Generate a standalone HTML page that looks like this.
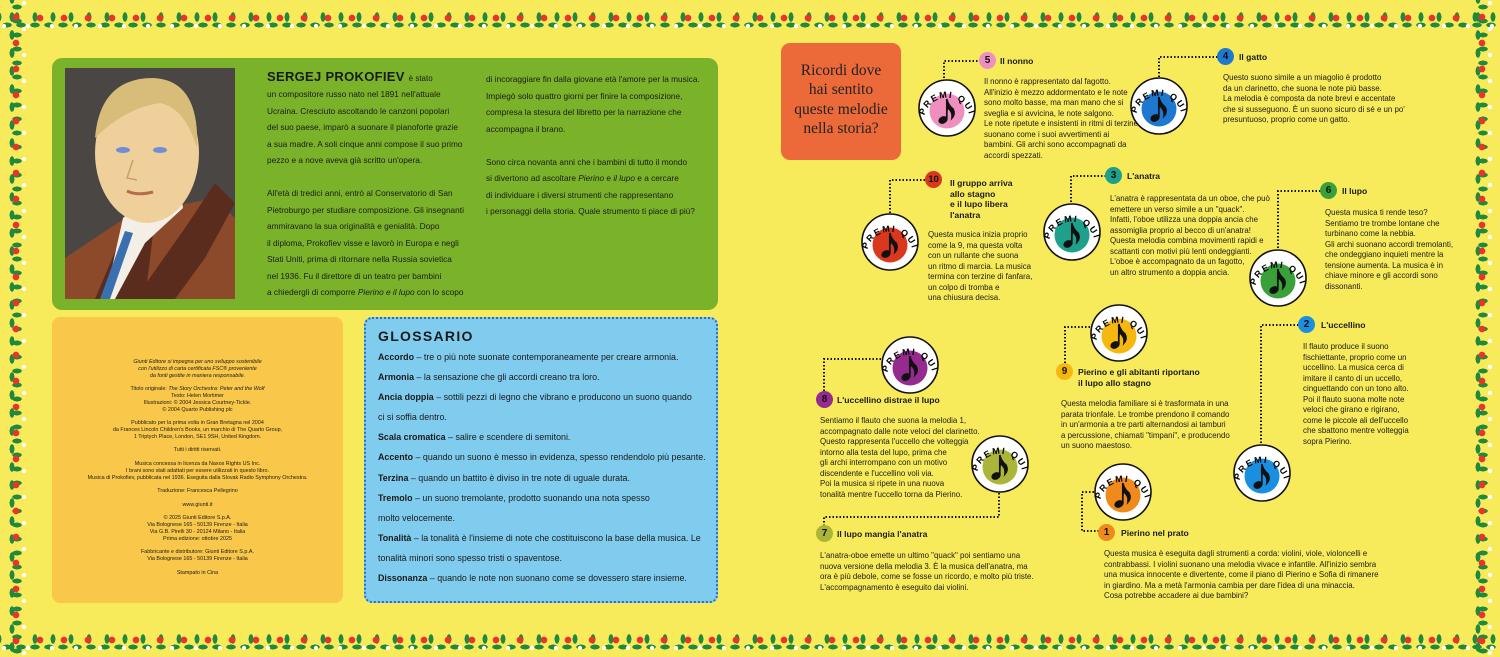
<!DOCTYPE html>
<html><head><meta charset="utf-8">
<style>
*{margin:0;padding:0;box-sizing:border-box}
body{width:1500px;height:657px;overflow:hidden;background:#f8eb5b;font-family:"Liberation Sans",sans-serif;color:#1a1a1a;position:relative}
.a{position:absolute}
.band{position:absolute;background-color:transparent;
background-image:radial-gradient(circle,#e8342a 3px,transparent 3.6px),radial-gradient(circle,#fff 1.8px,transparent 2.4px),radial-gradient(ellipse 5px 2.5px,#1f8a3d 90%,transparent 100%),radial-gradient(ellipse 2.5px 5px,#1f8a3d 90%,transparent 100%);}
.h{background-size:24px 20px,24px 20px,14px 20px,18px 20px;background-position:4px 4px,16px 12px,0 11px,8px 3px;background-repeat:repeat-x}
.v{background-size:20px 26px,20px 26px,20px 14px,20px 18px;background-position:4px 4px,12px 16px,5px 0,0 8px;background-repeat:repeat-y}
.p{font-size:8.3px;line-height:16.5px;white-space:nowrap}
.g{font-size:8.9px;line-height:20.1px;white-space:nowrap}
.g b{font-weight:bold}
.t{font-size:7.9px;line-height:10.5px;white-space:nowrap}
.tt{font-size:8.6px;line-height:10.5px;font-weight:bold;white-space:nowrap}
.bd{position:absolute;width:17px;height:17px;border-radius:50%;font-weight:bold;font-size:10px;line-height:17px;text-align:center;color:#111}
.c{font-size:5.4px;line-height:6.8px;text-align:center;white-space:nowrap}
</style></head><body>
<div class="band h" style="left:0;top:4px;width:1500px;height:24px"></div>
<div class="band h" style="left:0;top:626px;width:1500px;height:24px"></div>
<div class="band v" style="left:2px;top:0;width:24px;height:657px"></div>
<div class="band v" style="left:1468px;top:0;width:24px;height:657px"></div>

<div class="a" style="left:52px;top:58px;width:666px;height:252px;background:#7ab32a;border-radius:10px"></div>
<svg class="a" style="left:65px;top:68px" width="170" height="231" viewBox="0 0 170 231">
<rect width="170" height="231" fill="#4a4644"/>
<path d="M0 190 L60 150 L100 140 L150 130 L170 150 L170 231 L0 231Z" fill="#8c4a2b"/>
<path d="M30 231 L60 160 L90 150 L80 231Z" fill="#5a2c1e"/>
<path d="M150 115 L170 135 L140 190 L110 231 L70 231 L120 160Z" fill="#5a2c1e"/>
<path d="M58 150 L112 100 L118 140 L80 175 L50 231 L40 231Z" fill="#f3efe6"/>
<path d="M60 163 L68 165 L45 231 L35 231Z" fill="#3a6fb0"/>
<ellipse cx="82" cy="85" rx="52" ry="70" fill="#efcf9a"/>
<path d="M30 70 Q35 10 88 10 Q135 12 132 80 Q120 40 95 35 Q60 40 30 70Z" fill="#d8bc7a"/>
<ellipse cx="58" cy="82" rx="7" ry="3" fill="#6f8ed6"/><ellipse cx="95" cy="82" rx="7" ry="3" fill="#6f8ed6"/>
<path d="M62 123 Q72 128 88 124" stroke="#b66c4c" stroke-width="3" fill="none"/>
<path d="M68 92 L62 110 L72 112" stroke="#c9a06c" stroke-width="1.5" fill="none"/>
</svg>
<div class="a" style="left:267px;top:69px;font-size:13px;font-weight:bold;letter-spacing:.3px">SERGEJ PROKOFIEV <span style="font-size:8px;font-weight:normal;letter-spacing:0">è stato</span></div>
<div class="a p" style="left:267px;top:86px">un compositore russo nato nel 1891 nell'attuale<br>Ucraina. Cresciuto ascoltando le canzoni popolari<br>del suo paese, imparò a suonare il pianoforte grazie<br>a sua madre. A soli cinque anni compose il suo primo<br>pezzo e a nove aveva già scritto un'opera.<br><br>All'età di tredici anni, entrò al Conservatorio di San<br>Pietroburgo per studiare composizione. Gli insegnanti<br>ammiravano la sua originalità e genialità. Dopo<br>il diploma, Prokofiev visse e lavorò in Europa e negli<br>Stati Uniti, prima di ritornare nella Russia sovietica<br>nel 1936. Fu il direttore di un teatro per bambini<br>a chiedergli di comporre <i>Pierino e il lupo</i> con lo scopo</div>
<div class="a p" style="left:486px;top:71px">di incoraggiare fin dalla giovane età l'amore per la musica.<br>Impiegò solo quattro giorni per finire la composizione,<br>compresa la stesura del libretto per la narrazione che<br>accompagna il brano.<br><br>Sono circa novanta anni che i bambini di tutto il mondo<br>si divertono ad ascoltare <i>Pierino</i> e <i>il lupo</i> e a cercare<br>di individuare i diversi strumenti che rappresentano<br>i personaggi della storia. Quale strumento ti piace di più?</div>

<div class="a" style="left:52px;top:317px;width:291px;height:286px;background:#f9c74a;border-radius:8px"></div>
<div class="a c" style="left:52px;top:359px;width:291px"><i>Giunti Editore si impegna per uno sviluppo sostenibile<br>con l'utilizzo di carta certificata FSC® proveniente<br>da fonti gestite in maniera responsabile.</i><br><br>Titolo originale: <i>The Story Orchestra: Peter and the Wolf</i><br>Testo: Helen Mortimer<br>Illustrazioni: © 2004 Jessica Courtney-Tickle.<br>© 2004 Quarto Publishing plc<br><br>Pubblicato per la prima volta in Gran Bretagna nel 2004<br>da Frances Lincoln Children's Books, un marchio di The Quarto Group,<br>1 Triptych Place, London, SE1 9SH, United Kingdom.<br><br>Tutti i diritti riservati.<br><br>Musica concessa in licenza da Naxos Rights US Inc.<br>I brani sono stati adattati per essere utilizzati in questo libro.<br>Musica di Prokofiev, pubblicata nel 1936. Eseguita dalla Slovak Radio Symphony Orchestra.<br><br>Traduzione: Francesca Pellegrino<br><br>www.giunti.it<br><br>© 2025 Giunti Editore S.p.A.<br>Via Bolognese 165 - 50139 Firenze - Italia<br>Via G.B. Pirelli 30 - 20124 Milano - Italia<br>Prima edizione: ottobre 2025<br><br>Fabbricante e distributore: Giunti Editore S.p.A.<br>Via Bolognese 165 - 50139 Firenze - Italia<br><br>Stampato in Cina</div>

<div class="a" style="left:364px;top:317px;width:354px;height:286px;background:#80ccef;border:2px dotted #2a6bc9;border-radius:8px"></div>
<div class="a" style="left:378px;top:328px;font-size:14px;font-weight:bold;letter-spacing:1.3px">GLOSSARIO</div>
<div class="a g" style="left:378px;top:347px"><b>Accordo</b> – tre o più note suonate contemporaneamente per creare armonia.<br><b>Armonia</b> – la sensazione che gli accordi creano tra loro.<br><b>Ancia doppia</b> – sottili pezzi di legno che vibrano e producono un suono quando<br>ci si soffia dentro.<br><b>Scala cromatica</b> – salire e scendere di semitoni.<br><b>Accento</b> – quando un suono è messo in evidenza, spesso rendendolo più pesante.<br><b>Terzina</b> – quando un battito è diviso in tre note di uguale durata.<br><b>Tremolo</b> – un suono tremolante, prodotto suonando una nota spesso<br>molto velocemente.<br><b>Tonalità</b> – la tonalità è l'insieme di note che costituiscono la base della musica. Le<br>tonalità minori sono spesso tristi o spaventose.<br><b>Dissonanza</b> – quando le note non suonano come se dovessero stare insieme.</div>

<div class="a" style="left:781px;top:43px;width:120px;height:117px;background:#ec6a3a;border-radius:9px"></div>
<div class="a" style="left:781px;top:61px;width:120px;text-align:center;font-family:'Liberation Serif',serif;font-size:15.5px;line-height:19.3px;color:#222">Ricordi dove<br>hai sentito<br>queste melodie<br>nella storia?</div>

<svg class="a" style="left:0;top:0" width="1500" height="657">
<g fill="none" stroke="#111" stroke-width="2" stroke-dasharray="1.5 2">
<path d="M944 78 V61 H980"/>
<path d="M1159 77 V57 H1218"/>
<path d="M890 213 V180 H927"/>
<path d="M1071 202 V176 H1106"/>
<path d="M1278 248 V191 H1321"/>
<path d="M1090 327 H1065 V363"/>
<path d="M881 359 H824 V392"/>
<path d="M999 493 V517 H824 V526"/>
<path d="M1094 492 H1082 V531 H1099"/>
<path d="M1261 443 V325 H1299"/>
</g>
</svg>

<svg width="0" height="0" style="position:absolute"><defs><path id="arc" d="M7.5 38 A23 23 0 0 1 52.5 38"/>
<g id="note"><ellipse cx="26" cy="42" rx="4.8" ry="3.6" transform="rotate(-25 26 42)" fill="#111"/><path d="M29.8 41 V21 Q31 27 36 31 Q38.5 36 35 40 Q36 34 31 30" stroke="#111" stroke-width="1.7" fill="#111"/></g></defs></svg>

<svg class="a" style="left:917px;top:78px" width="60" height="60"><circle cx="30" cy="30" r="28" fill="#fff" stroke="#111" stroke-width="1.6"/><circle cx="30" cy="33" r="17.5" fill="#ef8fc0"/><use href="#note"/><text font-size="9" font-weight="bold" letter-spacing="1.6"><textPath href="#arc" startOffset="50%" text-anchor="middle">PREMI QUI</textPath></text></svg>
<svg class="a" style="left:1129px;top:76px" width="60" height="60"><circle cx="30" cy="30" r="28" fill="#fff" stroke="#111" stroke-width="1.6"/><circle cx="30" cy="33" r="17.5" fill="#1f78cf"/><use href="#note"/><text font-size="9" font-weight="bold" letter-spacing="1.6"><textPath href="#arc" startOffset="50%" text-anchor="middle">PREMI QUI</textPath></text></svg>
<svg class="a" style="left:860px;top:212px" width="60" height="60"><circle cx="30" cy="30" r="28" fill="#fff" stroke="#111" stroke-width="1.6"/><circle cx="30" cy="33" r="17.5" fill="#d9381e"/><use href="#note"/><text font-size="9" font-weight="bold" letter-spacing="1.6"><textPath href="#arc" startOffset="50%" text-anchor="middle">PREMI QUI</textPath></text></svg>
<svg class="a" style="left:1042px;top:202px" width="60" height="60"><circle cx="30" cy="30" r="28" fill="#fff" stroke="#111" stroke-width="1.6"/><circle cx="30" cy="33" r="17.5" fill="#1fa08a"/><use href="#note"/><text font-size="9" font-weight="bold" letter-spacing="1.6"><textPath href="#arc" startOffset="50%" text-anchor="middle">PREMI QUI</textPath></text></svg>
<svg class="a" style="left:1248px;top:248px" width="60" height="60"><circle cx="30" cy="30" r="28" fill="#fff" stroke="#111" stroke-width="1.6"/><circle cx="30" cy="33" r="17.5" fill="#3aa13a"/><use href="#note"/><text font-size="9" font-weight="bold" letter-spacing="1.6"><textPath href="#arc" startOffset="50%" text-anchor="middle">PREMI QUI</textPath></text></svg>
<svg class="a" style="left:1089px;top:303px" width="60" height="60"><circle cx="30" cy="30" r="28" fill="#fff" stroke="#111" stroke-width="1.6"/><circle cx="30" cy="33" r="17.5" fill="#f6b80f"/><use href="#note"/><text font-size="9" font-weight="bold" letter-spacing="1.6"><textPath href="#arc" startOffset="50%" text-anchor="middle">PREMI QUI</textPath></text></svg>
<svg class="a" style="left:880px;top:335px" width="60" height="60"><circle cx="30" cy="30" r="28" fill="#fff" stroke="#111" stroke-width="1.6"/><circle cx="30" cy="33" r="17.5" fill="#952b8f"/><use href="#note"/><text font-size="9" font-weight="bold" letter-spacing="1.6"><textPath href="#arc" startOffset="50%" text-anchor="middle">PREMI QUI</textPath></text></svg>
<svg class="a" style="left:970px;top:434px" width="60" height="60"><circle cx="30" cy="30" r="28" fill="#fff" stroke="#111" stroke-width="1.6"/><circle cx="30" cy="33" r="17.5" fill="#aab53a"/><use href="#note"/><text font-size="9" font-weight="bold" letter-spacing="1.6"><textPath href="#arc" startOffset="50%" text-anchor="middle">PREMI QUI</textPath></text></svg>
<svg class="a" style="left:1093px;top:462px" width="60" height="60"><circle cx="30" cy="30" r="28" fill="#fff" stroke="#111" stroke-width="1.6"/><circle cx="30" cy="33" r="17.5" fill="#f08a1c"/><use href="#note"/><text font-size="9" font-weight="bold" letter-spacing="1.6"><textPath href="#arc" startOffset="50%" text-anchor="middle">PREMI QUI</textPath></text></svg>
<svg class="a" style="left:1232px;top:443px" width="60" height="60"><circle cx="30" cy="30" r="28" fill="#fff" stroke="#111" stroke-width="1.6"/><circle cx="30" cy="33" r="17.5" fill="#1a8fe0"/><use href="#note"/><text font-size="9" font-weight="bold" letter-spacing="1.6"><textPath href="#arc" startOffset="50%" text-anchor="middle">PREMI QUI</textPath></text></svg>

<div class="bd" style="left:979px;top:52px;background:#ef8fc0">5</div>
<div class="bd" style="left:1217px;top:48px;background:#1f78cf">4</div>
<div class="bd" style="left:925px;top:171px;background:#d9381e;font-size:9.5px">10</div>
<div class="bd" style="left:1105px;top:167px;background:#1fa08a">3</div>
<div class="bd" style="left:1320px;top:182px;background:#3aa13a">6</div>
<div class="bd" style="left:1056px;top:363px;background:#f6b80f">9</div>
<div class="bd" style="left:816px;top:391px;background:#952b8f">8</div>
<div class="bd" style="left:816px;top:525px;background:#aab53a">7</div>
<div class="bd" style="left:1098px;top:524px;background:#f08a1c">1</div>
<div class="bd" style="left:1298px;top:316px;background:#1a8fe0">2</div>

<div class="a tt" style="left:1000px;top:56px">Il nonno</div>
<div class="a tt" style="left:1239px;top:52px">Il gatto</div>
<div class="a tt" style="left:950px;top:178px">Il gruppo arriva<br>allo stagno<br>e il lupo libera<br>l'anatra</div>
<div class="a tt" style="left:1127px;top:171px">L'anatra</div>
<div class="a tt" style="left:1342px;top:186px">Il lupo</div>
<div class="a tt" style="left:1078px;top:367px">Pierino e gli abitanti riportano<br>il lupo allo stagno</div>
<div class="a tt" style="left:837px;top:395px">L'uccellino distrae il lupo</div>
<div class="a tt" style="left:837px;top:529px">Il lupo mangia l'anatra</div>
<div class="a tt" style="left:1121px;top:528px">Pierino nel prato</div>
<div class="a tt" style="left:1321px;top:320px">L'uccellino</div>

<div class="a t" style="left:984px;top:77px">Il nonno è rappresentato dal fagotto.<br>All'inizio è mezzo addormentato e le note<br>sono molto basse, ma man mano che si<br>sveglia e si avvicina, le note salgono.<br>Le note ripetute e insistenti in ritmi di terzine<br>suonano come i suoi avvertimenti ai<br>bambini. Gli archi sono accompagnati da<br>accordi spezzati.</div>
<div class="a t" style="left:1223px;top:73px">Questo suono simile a un miagolio è prodotto<br>da un clarinetto, che suona le note più basse.<br>La melodia è composta da note brevi e accentate<br>che si susseguono. È un suono sicuro di sé e un po'<br>presuntuoso, proprio come un gatto.</div>
<div class="a t" style="left:928px;top:230px">Questa musica inizia proprio<br>come la 9, ma questa volta<br>con un rullante che suona<br>un ritmo di marcia. La musica<br>termina con terzine di fanfara,<br>un colpo di tromba e<br>una chiusura decisa.</div>
<div class="a t" style="left:1110px;top:194px">L'anatra è rappresentata da un oboe, che può<br>emettere un verso simile a un "quack".<br>Infatti, l'oboe utilizza una doppia ancia che<br>assomiglia proprio al becco di un'anatra!<br>Questa melodia combina movimenti rapidi e<br>scattanti con motivi più lenti ondeggianti.<br>L'oboe è accompagnato da un fagotto,<br>un altro strumento a doppia ancia.</div>
<div class="a t" style="left:1325px;top:208px">Questa musica ti rende teso?<br>Sentiamo tre trombe lontane che<br>turbinano come la nebbia.<br>Gli archi suonano accordi tremolanti,<br>che ondeggiano inquieti mentre la<br>tensione aumenta. La musica è in<br>chiave minore e gli accordi sono<br>dissonanti.</div>
<div class="a t" style="left:1061px;top:399px">Questa melodia familiare si è trasformata in una<br>parata trionfale. Le trombe prendono il comando<br>in un'armonia a tre parti alternandosi ai tamburi<br>a percussione, chiamati "timpani", e producendo<br>un suono maestoso.</div>
<div class="a t" style="left:820px;top:416px">Sentiamo il flauto che suona la melodia 1,<br>accompagnato dalle note veloci del clarinetto.<br>Questo rappresenta l'uccello che volteggia<br>intorno alla testa del lupo, prima che<br>gli archi interrompano con un motivo<br>discendente e l'uccellino voli via.<br>Poi la musica si ripete in una nuova<br>tonalità mentre l'uccello torna da Pierino.</div>
<div class="a t" style="left:820px;top:551px">L'anatra-oboe emette un ultimo "quack" poi sentiamo una<br>nuova versione della melodia 3. È la musica dell'anatra, ma<br>ora è più debole, come se fosse un ricordo, e molto più triste.<br>L'accompagnamento è eseguito dai violini.</div>
<div class="a t" style="left:1104px;top:549px">Questa musica è eseguita dagli strumenti a corda: violini, viole, violoncelli e<br>contrabbassi. I violini suonano una melodia vivace e infantile. All'inizio sembra<br>una musica innocente e divertente, come il piano di Pierino e Sofia di rimanere<br>in giardino. Ma a metà l'armonia cambia per dare l'idea di una minaccia.<br>Cosa potrebbe accadere ai due bambini?</div>
<div class="a t" style="left:1303px;top:342px">Il flauto produce il suono<br>fischiettante, proprio come un<br>uccellino. La musica cerca di<br>imitare il canto di un uccello,<br>cinguettando con un tono alto.<br>Poi il flauto suona molte note<br>veloci che girano e rigirano,<br>come le piccole ali dell'uccello<br>che sbattono mentre volteggia<br>sopra Pierino.</div>
</body></html>
